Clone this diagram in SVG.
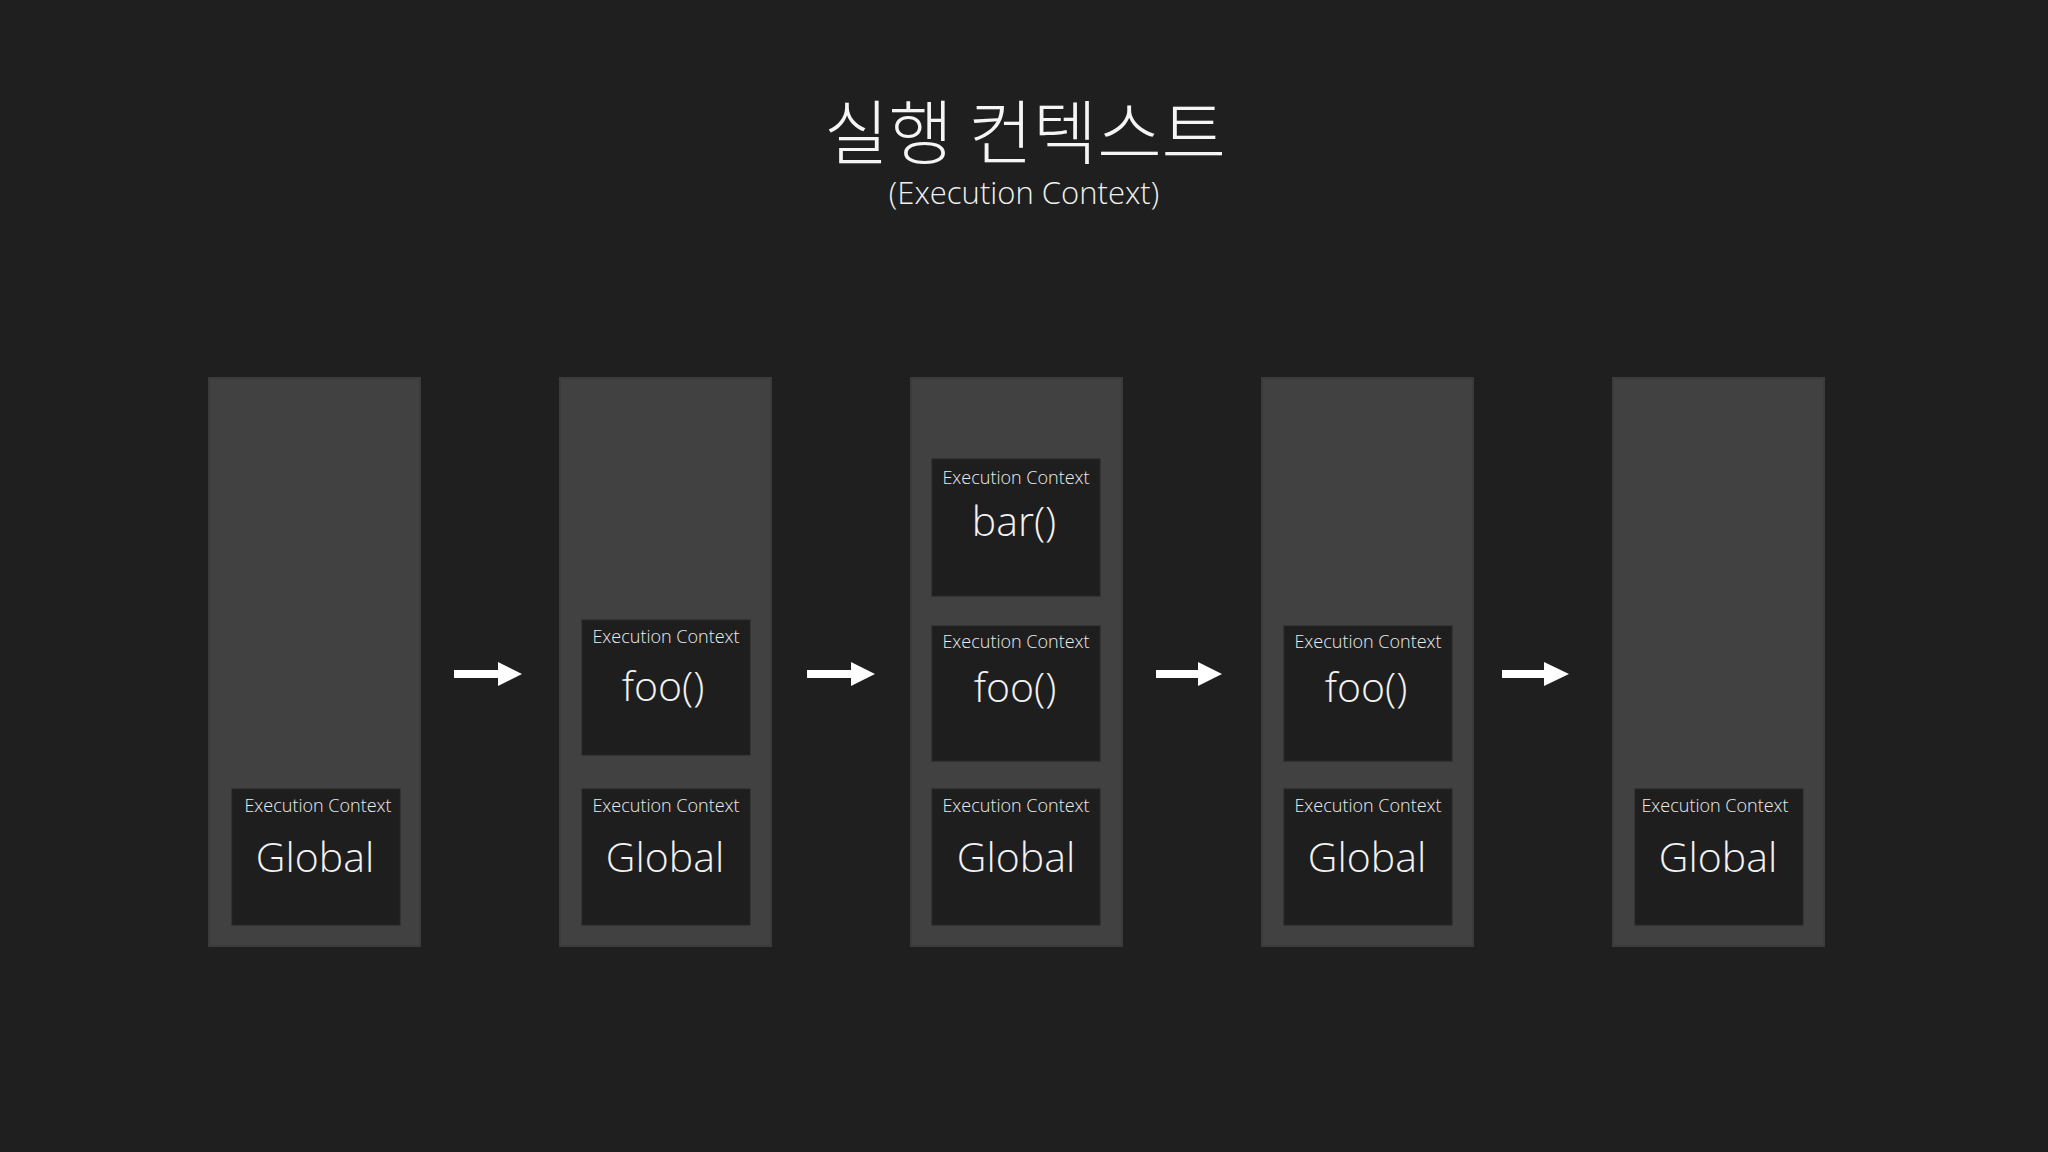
<svg xmlns="http://www.w3.org/2000/svg" width="2048" height="1152" viewBox="0 0 2048 1152">
<style>
.bg{fill:#1f1f1f}
.col{fill:#414141;stroke:#3b3b3b;stroke-width:2}
.box{fill:#1e1e1e;stroke:#262626;stroke-width:1}
.lbl{font-family:"Open Sans","Noto Sans",sans-serif;font-size:18px;font-weight:300;fill:#ececec;text-anchor:middle}
.main{font-family:"Open Sans","Noto Sans",sans-serif;font-size:41px;font-weight:300;fill:#f2f2f2;text-anchor:middle}
.title{font-family:"Noto Sans CJK KR","Open Sans",sans-serif;font-size:70px;font-weight:300;fill:#f5f5f5;text-anchor:middle}
.sub{font-family:"Open Sans","Noto Sans",sans-serif;font-size:31px;font-weight:300;fill:#f0f0f0;text-anchor:middle}
.arr{fill:#ffffff}
</style>
<rect class="bg" x="0" y="0" width="2048" height="1152"/>
<g id="title">
<text class="title" x="1025" y="159">실행 컨텍스트</text>
<text class="sub" x="1024" y="204">(Execution Context)</text>
</g>
<g id="stack1">
<rect class="col" x="209" y="378" width="211" height="568"/>
<g id="s1-global">
<rect class="box" x="232" y="789" width="168" height="136"/>
<text class="lbl" x="318" y="812">Execution Context</text>
<text class="main" x="315" y="872">Global</text>
</g>
</g>
<g id="stack2">
<rect class="col" x="560" y="378" width="211" height="568"/>
<g id="s2-foo">
<rect class="box" x="582" y="620" width="168" height="135"/>
<text class="lbl" x="666" y="643">Execution Context</text>
<text class="main" x="663" y="701">foo()</text>
</g>
<g id="s2-global">
<rect class="box" x="582" y="789" width="168" height="136"/>
<text class="lbl" x="666" y="812">Execution Context</text>
<text class="main" x="665" y="872">Global</text>
</g>
</g>
<g id="stack3">
<rect class="col" x="911" y="378" width="211" height="568"/>
<g id="s3-bar">
<rect class="box" x="932" y="459" width="168" height="137"/>
<text class="lbl" x="1016" y="484">Execution Context</text>
<text class="main" x="1014" y="536">bar()</text>
</g>
<g id="s3-foo">
<rect class="box" x="932" y="626" width="168" height="135"/>
<text class="lbl" x="1016" y="648">Execution Context</text>
<text class="main" x="1015" y="702">foo()</text>
</g>
<g id="s3-global">
<rect class="box" x="932" y="789" width="168" height="136"/>
<text class="lbl" x="1016" y="812">Execution Context</text>
<text class="main" x="1016" y="872">Global</text>
</g>
</g>
<g id="stack4">
<rect class="col" x="1262" y="378" width="211" height="568"/>
<g id="s4-foo">
<rect class="box" x="1284" y="626" width="168" height="135"/>
<text class="lbl" x="1368" y="648">Execution Context</text>
<text class="main" x="1366" y="702">foo()</text>
</g>
<g id="s4-global">
<rect class="box" x="1284" y="789" width="168" height="136"/>
<text class="lbl" x="1368" y="812">Execution Context</text>
<text class="main" x="1367" y="872">Global</text>
</g>
</g>
<g id="stack5">
<rect class="col" x="1613" y="378" width="211" height="568"/>
<g id="s5-global">
<rect class="box" x="1635" y="789" width="168" height="136"/>
<text class="lbl" x="1715" y="812">Execution Context</text>
<text class="main" x="1718" y="872">Global</text>
</g>
</g>
<g id="connectors">
<polygon class="arr" points="454,670 498,670 498,662 522,674 498,686 498,678 454,678"/>
<polygon class="arr" points="807,670 851,670 851,662 875,674 851,686 851,678 807,678"/>
<polygon class="arr" points="1156,670 1198,670 1198,662 1222,674 1198,686 1198,678 1156,678"/>
<polygon class="arr" points="1502,670 1544,670 1544,662 1569,674 1544,686 1544,678 1502,678"/>
</g>
</svg>
